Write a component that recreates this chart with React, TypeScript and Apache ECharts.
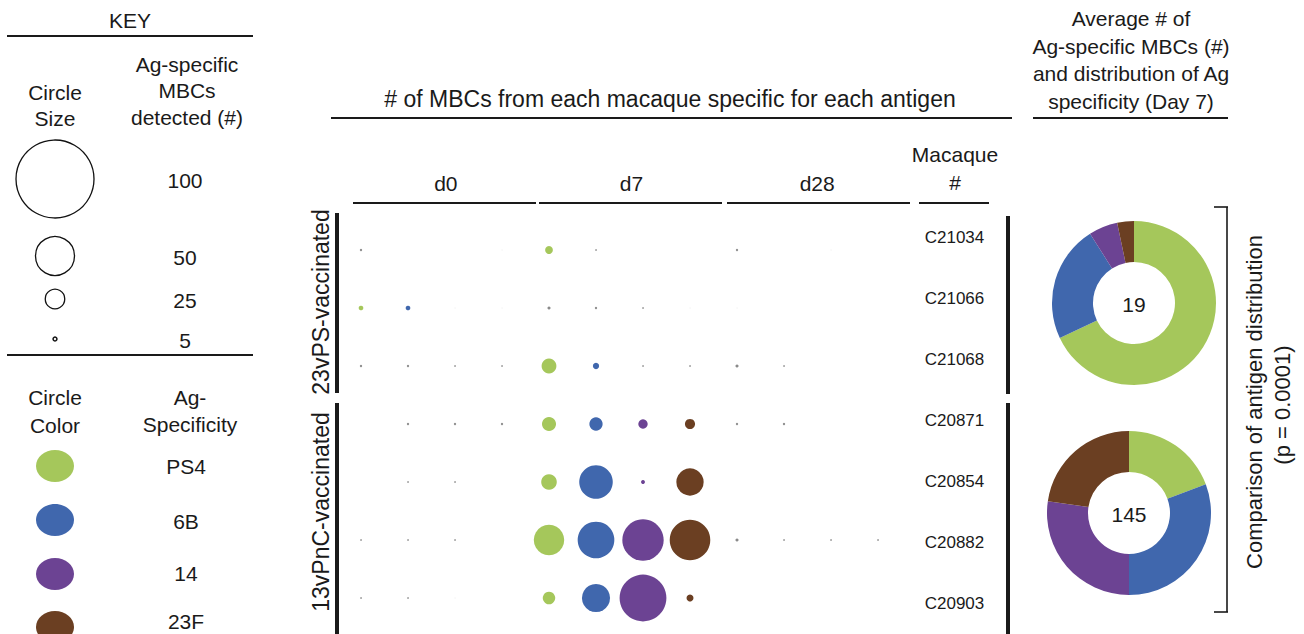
import React, { useEffect, useRef } from "react";
import * as echarts from "echarts";

// ---------- data ----------
const macaques = ["C21034", "C21066", "C21068", "C20871", "C20854", "C20882", "C20903"];
const days = ["d0", "d7", "d28"];
const antigens = ["PS4", "6B", "14", "23F"];
const antigenColors = ["#a5c75b", "#4067ad", "#6c4393", "#6b3f22"];

// counts per macaque: [PS4, 6B, 14, 23F]
const d0Counts = [
  [3, 0, 0, 1],
  [6, 6, 1, 1],
  [3, 3, 2, 2],
  [0, 3, 3, 3],
  [0, 2, 2, 0],
  [2, 2, 2, 0],
  [2, 2, 1, 0],
];
const d7Counts = [
  [10, 2, 0, 0],
  [4, 3, 2, 1],
  [19, 8, 2, 2],
  [18, 17, 12, 13],
  [20, 43, 5, 35],
  [39, 47, 53, 52],
  [16, 36, 60, 9],
];
const d28Counts = [
  [3, 0, 1, 0],
  [1, 0, 0, 0],
  [4, 2, 0, 0],
  [3, 3, 0, 0],
  [0, 0, 0, 0],
  [4, 2, 2, 2],
  [0, 0, 0, 0],
];

// Day-7 antigen distribution (%) per vaccine group
const groups = ["23vPS-vaccinated", "13vPnC-vaccinated"];
const dist23vPS = [68, 23, 5.7, 3.3];
const dist13vPnC = [19.3, 30.7, 27.3, 22.7];
const groupAverages = [19, 145];

// key
const keySizes = [100, 50, 25, 5];

const FONT = "'Liberation Sans', Arial, Helvetica, sans-serif";
const PX_PER_COUNT = 0.78;
const TXT = "#1a1a1a";

function App() {
  const ref = useRef<HTMLDivElement>(null);

  useEffect(() => {
    if (!ref.current) return;
    const chart = echarts.init(ref.current, undefined, { renderer: "svg" });

    const allDays = [d0Counts, d7Counts, d28Counts];
    const scatterSeries = antigens.map((ag, ai) => {
      const data: number[][] = [];
      allDays.forEach((counts, di) => {
        counts.forEach((row, mi) => {
          if (row[ai] > 0) data.push([di * 4 + ai, mi, row[ai]]);
        });
      });
      return {
        type: "scatter",
        name: ag,
        xAxisIndex: 0,
        yAxisIndex: 0,
        data,
        symbol: "circle",
        symbolSize: (v: number[]) => v[2] * PX_PER_COUNT,
        silent: true,
        itemStyle: {
          opacity: 1,
          color: (p: any) => {
            const v = p.data[2];
            if (v <= 1) return "#d4d4d4";
            if (v < 5) return "#8a8a8a";
            return antigenColors[ai];
          },
        },
      };
    });

    const pie = (center: number[], dist: number[]) => ({
      type: "pie",
      center,
      radius: [41, 82],
      startAngle: 90,
      clockwise: true,
      silent: true,
      label: { show: false },
      labelLine: { show: false },
      itemStyle: { borderWidth: 0 },
      data: antigens.map((a, i) => ({ name: a, value: dist[i], itemStyle: { color: antigenColors[i] } })),
    });

    const t = (text: string, x: number, y: number, size = 21, extra: any = {}) => ({
      type: "text",
      x,
      y,
      ...extra,
      style: { text, fontSize: size, fontFamily: FONT, fill: TXT, align: "center", verticalAlign: "middle" },
    });
    const ln = (x1: number, y1: number, x2: number, y2: number, w = 2) => ({
      type: "line",
      shape: { x1, y1, x2, y2 },
      style: { stroke: "#1a1a1a", lineWidth: w },
    });

    const keyY = [179, 256, 299, 339];
    const colorY = [466, 520, 574, 627];
    const colorLabelY = [466, 521, 573, 621];

    const graphic: any[] = [
      // key
      t("KEY", 130, 20),
      ln(7, 36, 253, 36),
      t("Circle", 55, 92),
      t("Size", 55, 118),
      t("Ag-specific", 187, 64),
      t("MBCs", 187, 90),
      t("detected (#)", 187, 117),
      ...keySizes.map((v, i) => ({
        type: "circle",
        shape: { cx: 55, cy: keyY[i], r: (v * PX_PER_COUNT) / 2 },
        style: { fill: "none", stroke: "#111", lineWidth: v < 10 ? 1.5 : 1.3 },
      })),
      ...keySizes.map((v, i) => t(String(v), 185, keyY[i] + 1)),
      ln(7, 355, 253, 355),
      t("Circle", 55, 397),
      t("Color", 55, 425),
      t("Ag-", 190, 397),
      t("Specificity", 190, 424),
      ...antigens.map((a, i) => ({
        type: "ellipse",
        shape: { cx: 55, cy: colorY[i], rx: 19, ry: 16 },
        style: { fill: antigenColors[i] },
      })),
      ...antigens.map((a, i) => t(a, 186, colorLabelY[i])),
      // headings
      t("# of MBCs from each macaque specific for each antigen", 670, 99, 23),
      ln(331, 118, 1012, 118),
      t("Average # of", 1131, 18),
      t("Ag-specific MBCs (#)", 1131, 46),
      t("and distribution of Ag", 1131, 73),
      t("specificity (Day 7)", 1131, 101),
      ln(1033, 118, 1228, 118),
      t("Macaque", 955, 154),
      t("#", 955, 182),
      // day header lines
      ln(353, 203, 536, 203),
      ln(539, 203, 722, 203),
      ln(727, 203, 910, 203),
      ln(919, 203, 989, 203),
      // group labels and bars
      t(groups[0], 321, 302, 23, { rotation: Math.PI / 2 }),
      t(groups[1], 321, 512, 23, { rotation: Math.PI / 2 }),
      ln(337, 213, 337, 393, 4),
      ln(337, 403, 337, 634, 4),
      ln(1008, 216, 1008, 394, 4),
      ln(1008, 403, 1008, 634, 4),
      // donut centers
      t(String(groupAverages[0]), 1134, 304),
      t(String(groupAverages[1]), 1129, 514),
      // bracket
      ln(1227, 207, 1227, 612, 1.6),
      ln(1214, 207, 1228, 207, 1.6),
      ln(1214, 612, 1228, 612, 1.6),
      t("Comparison of antigen distribution", 1254, 402, 22, { rotation: Math.PI / 2 }),
      t("(p = 0.0001)", 1282, 405, 22, { rotation: Math.PI / 2 }),
    ];

    chart.setOption({
      animation: false,
      backgroundColor: "#ffffff",
      grid: [
        { left: 337.5, top: 221, width: 564, height: 406 },
        { left: 954.5, top: 207.5, width: 1, height: 427 },
        { left: 353, top: 203, width: 557, height: 1 },
      ],
      xAxis: [
        { gridIndex: 0, type: "value", min: -0.5, max: 11.5, show: false },
        { gridIndex: 1, type: "value", show: false },
        {
          gridIndex: 2,
          type: "category",
          data: days,
          position: "top",
          axisLine: { show: false },
          axisTick: { show: false },
          splitLine: { show: false },
          axisLabel: { fontSize: 21, color: TXT, fontFamily: FONT, margin: 9 },
        },
      ],
      yAxis: [
        { gridIndex: 0, type: "category", data: macaques, inverse: true, show: false },
        {
          gridIndex: 1,
          type: "category",
          data: macaques,
          inverse: true,
          axisLine: { show: false },
          axisTick: { show: false },
          splitLine: { show: false },
          axisLabel: { fontSize: 17, color: TXT, fontFamily: FONT, margin: 0, align: "center" },
        },
        { gridIndex: 2, type: "value", show: false },
      ],
      series: [...scatterSeries, pie([1134, 303], dist23vPS), pie([1129, 513], dist13vPnC)],
      graphic,
    });

    return () => chart.dispose();
  }, []);

  return (
    <div
      ref={ref}
      style={{ position: "fixed", left: 0, top: 0, width: 1304, height: 634, background: "#fff" }}
    />
  );
}

export default App;
